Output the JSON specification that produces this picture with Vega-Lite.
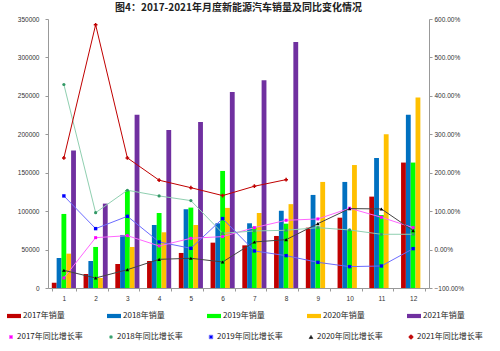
{
  "$schema": "https://vega.github.io/schema/vega-lite/v6.json",
  "autosize": {"type": "none"},
  "padding": {"left": 48, "top": 19, "right": 71, "bottom": 63},
  "width": 381,
  "height": 269,
  "background": "white",
  "title": {"text": "图4：2017-2021年月度新能源汽车销量及同比变化情况", "font": "Noto Sans CJK SC", "fontSize": 10, "fontWeight": "bold", "color": "#222222", "anchor": "middle", "offset": 3},
  "config": {
    "view": {"stroke": null},
    "axis": {"grid": false, "domainColor": "#999999", "tickColor": "#999999", "labelColor": "#333333", "labelFont": "Liberation Sans", "labelFontSize": 6.5, "tickSize": 3, "title": null, "labelOverlap": false, "labelBound": false},
    "legend": {"labelFont": "Noto Sans CJK SC", "labelFontSize": 8, "labelColor": "#222222", "labelLimit": 200, "title": null}
  },
  "datasets": {
    "sales": [
      {"month": 1, "year": "2017年销量", "sales": 6900}, {"month": 2, "year": "2017年销量", "sales": 18200}, {"month": 3, "year": "2017年销量", "sales": 31250}, {"month": 4, "year": "2017年销量", "sales": 35100}, {"month": 5, "year": "2017年销量", "sales": 45600}, {"month": 6, "year": "2017年销量", "sales": 59000}, {"month": 7, "year": "2017年销量", "sales": 55500}, {"month": 8, "year": "2017年销量", "sales": 67700}, {"month": 9, "year": "2017年销量", "sales": 78500}, {"month": 10, "year": "2017年销量", "sales": 91500}, {"month": 11, "year": "2017年销量", "sales": 118900}, {"month": 12, "year": "2017年销量", "sales": 163200},
      {"month": 1, "year": "2018年销量", "sales": 39000}, {"month": 2, "year": "2018年销量", "sales": 35100}, {"month": 3, "year": "2018年销量", "sales": 69000}, {"month": 4, "year": "2018年销量", "sales": 82000}, {"month": 5, "year": "2018年销量", "sales": 102500}, {"month": 6, "year": "2018年销量", "sales": 84200}, {"month": 7, "year": "2018年销量", "sales": 84200}, {"month": 8, "year": "2018年销量", "sales": 100500}, {"month": 9, "year": "2018年销量", "sales": 121100}, {"month": 10, "year": "2018年销量", "sales": 138000}, {"month": 11, "year": "2018年销量", "sales": 169300}, {"month": 12, "year": "2018年销量", "sales": 225300},
      {"month": 1, "year": "2019年销量", "sales": 96350}, {"month": 2, "year": "2019年销量", "sales": 53400}, {"month": 3, "year": "2019年销量", "sales": 127200}, {"month": 4, "year": "2019年销量", "sales": 97650}, {"month": 5, "year": "2019年销量", "sales": 104600}, {"month": 6, "year": "2019年销量", "sales": 152300}, {"month": 7, "year": "2019年销量", "sales": 79700}, {"month": 8, "year": "2019年销量", "sales": 83700}, {"month": 9, "year": "2019年销量", "sales": 80000}, {"month": 10, "year": "2019年销量", "sales": 75500}, {"month": 11, "year": "2019年销量", "sales": 95000}, {"month": 12, "year": "2019年销量", "sales": 163200},
      {"month": 1, "year": "2020年销量", "sales": 44700}, {"month": 2, "year": "2020年销量", "sales": 13000}, {"month": 3, "year": "2020年销量", "sales": 53400}, {"month": 4, "year": "2020年销量", "sales": 72500}, {"month": 5, "year": "2020年销量", "sales": 82000}, {"month": 6, "year": "2020年销量", "sales": 104200}, {"month": 7, "year": "2020年销量", "sales": 97600}, {"month": 8, "year": "2020年销量", "sales": 109100}, {"month": 9, "year": "2020年销量", "sales": 138000}, {"month": 10, "year": "2020年销量", "sales": 160000}, {"month": 11, "year": "2020年销量", "sales": 200100}, {"month": 12, "year": "2020年销量", "sales": 247800},
      {"month": 1, "year": "2021年销量", "sales": 178800}, {"month": 2, "year": "2021年销量", "sales": 109800}, {"month": 3, "year": "2021年销量", "sales": 225300}, {"month": 4, "year": "2021年销量", "sales": 205700}, {"month": 5, "year": "2021年销量", "sales": 216100}, {"month": 6, "year": "2021年销量", "sales": 255000}, {"month": 7, "year": "2021年销量", "sales": 270400}, {"month": 8, "year": "2021年销量", "sales": 320000}
    ],
    "rates": [
      {"month": 1, "series": "2017年同比增长率", "rate": -0.74}, {"month": 2, "series": "2017年同比增长率", "rate": 0.31}, {"month": 3, "series": "2017年同比增长率", "rate": 0.362}, {"month": 4, "series": "2017年同比增长率", "rate": 0.094}, {"month": 5, "series": "2017年同比增长率", "rate": 0.293}, {"month": 6, "series": "2017年同比增长率", "rate": 0.337}, {"month": 7, "series": "2017年同比增长率", "rate": 0.57}, {"month": 8, "series": "2017年同比增长率", "rate": 0.762}, {"month": 9, "series": "2017年同比增长率", "rate": 0.797}, {"month": 10, "series": "2017年同比增长率", "rate": 1.075}, {"month": 11, "series": "2017年同比增长率", "rate": 0.84}, {"month": 12, "series": "2017年同比增长率", "rate": 0.57},
      {"month": 1, "series": "2018年同比增长率", "rate": 4.295}, {"month": 2, "series": "2018年同比增长率", "rate": 0.96}, {"month": 3, "series": "2018年同比增长率", "rate": 1.544}, {"month": 4, "series": "2018年同比增长率", "rate": 1.396}, {"month": 5, "series": "2018年同比增长率", "rate": 1.274}, {"month": 6, "series": "2018年同比增长率", "rate": 0.424}, {"month": 7, "series": "2018年同比增长率", "rate": 0.484}, {"month": 8, "series": "2018年同比增长率", "rate": 0.502}, {"month": 9, "series": "2018年同比增长率", "rate": 0.57}, {"month": 10, "series": "2018年同比增长率", "rate": 0.51}, {"month": 11, "series": "2018年同比增长率", "rate": 0.398}, {"month": 12, "series": "2018年同比增长率", "rate": 0.398},
      {"month": 1, "series": "2019年同比增长率", "rate": 1.396}, {"month": 2, "series": "2019年同比增长率", "rate": 0.545}, {"month": 3, "series": "2019年同比增长率", "rate": 0.866}, {"month": 4, "series": "2019年同比增长率", "rate": 0.198}, {"month": 5, "series": "2019年同比增长率", "rate": 0.033}, {"month": 6, "series": "2019年同比增长率", "rate": 0.806}, {"month": 7, "series": "2019年同比增长率", "rate": -0.036}, {"month": 8, "series": "2019年同比增长率", "rate": -0.158}, {"month": 9, "series": "2019年同比增长率", "rate": -0.332}, {"month": 10, "series": "2019年同比增长率", "rate": -0.444}, {"month": 11, "series": "2019年同比增长率", "rate": -0.427}, {"month": 12, "series": "2019年同比增长率", "rate": 0.024},
      {"month": 1, "series": "2020年同比增长率", "rate": -0.54}, {"month": 2, "series": "2020年同比增长率", "rate": -0.74}, {"month": 3, "series": "2020年同比增长率", "rate": -0.523}, {"month": 4, "series": "2020年同比增长率", "rate": -0.254}, {"month": 5, "series": "2020年同比增长率", "rate": -0.227}, {"month": 6, "series": "2020年同比增长率", "rate": -0.323}, {"month": 7, "series": "2020年同比增长率", "rate": 0.198}, {"month": 8, "series": "2020年同比增长率", "rate": 0.258}, {"month": 9, "series": "2020年同比增长率", "rate": 0.675}, {"month": 10, "series": "2020年同比增长率", "rate": 1.066}, {"month": 11, "series": "2020年同比增长率", "rate": 1.057}, {"month": 12, "series": "2020年同比增长率", "rate": 0.493},
      {"month": 1, "series": "2021年同比增长率", "rate": 2.385}, {"month": 2, "series": "2021年同比增长率", "rate": 5.849}, {"month": 3, "series": "2021年同比增长率", "rate": 2.385}, {"month": 4, "series": "2021年同比增长率", "rate": 1.805}, {"month": 5, "series": "2021年同比增长率", "rate": 1.61}, {"month": 6, "series": "2021年同比增长率", "rate": 1.405}, {"month": 7, "series": "2021年同比增长率", "rate": 1.648}, {"month": 8, "series": "2021年同比增长率", "rate": 1.82}
    ]
  },
  "encoding": {
    "x": {"field": "month", "type": "ordinal", "scale": {"paddingInner": 0.24, "paddingOuter": 0.12}, "axis": {"labelAngle": 0, "tickBand": "extent", "labelPadding": 4, "tickSize": 3}}
  },
  "layer": [
    {
      "data": {"name": "sales"},
      "mark": {"type": "bar"},
      "encoding": {
        "xOffset": {"field": "year", "type": "nominal", "scale": {"domain": ["2017年销量", "2018年销量", "2019年销量", "2020年销量", "2021年销量"], "paddingInner": 0, "paddingOuter": 0}},
        "y": {"field": "sales", "type": "quantitative", "scale": {"domain": [0, 350000]}, "axis": {"orient": "left", "values": [0, 50000, 100000, 150000, 200000, 250000, 300000, 350000], "format": "d", "labelPadding": 6}},
        "color": {"field": "year", "type": "nominal", "scale": {"domain": ["2017年销量", "2018年销量", "2019年销量", "2020年销量", "2021年销量"], "range": ["#C00000", "#0070C0", "#00FF00", "#FFC000", "#7030A0"]},
          "legend": {"orient": "none", "direction": "horizontal", "columns": 5, "legendX": -41, "legendY": 290, "symbolType": "M-1,-0.3H1V0.3H-1Z", "symbolSize": 196, "symbolStrokeWidth": 0, "columnPadding": 42, "labelOffset": 2}}
      }
    },
    {
      "data": {"name": "rates"},
      "encoding": {
        "y": {"field": "rate", "type": "quantitative", "scale": {"domain": [-1, 6]}, "axis": {"orient": "right", "values": [-1, 0, 1, 2, 3, 4, 5, 6], "format": ".2%", "labelPadding": 2}}
      },
      "layer": [
        {
          "mark": {"type": "line", "strokeWidth": 1},
          "encoding": {
            "stroke": {"field": "series", "type": "nominal", "scale": {"domain": ["2017年同比增长率", "2018年同比增长率", "2019年同比增长率", "2020年同比增长率", "2021年同比增长率"], "range": ["#FF66FF", "#8FCFB0", "#6B6BFF", "#444444", "#C00000"]},
              "legend": {"orient": "none", "direction": "horizontal", "columns": 5, "legendX": -41, "legendY": 314, "symbolType": "M-1,0H1M-0.2,-0.2H0.2V0.2H-0.2Z", "symbolSize": 196, "symbolStrokeWidth": 1.5, "columnPadding": 24, "labelOffset": 2}},
            "strokeWidth": {"field": "series", "type": "nominal", "scale": {"domain": ["2017年同比增长率", "2018年同比增长率", "2019年同比增长率", "2020年同比增长率", "2021年同比增长率"], "range": [1, 1, 1, 1, 1.5]}, "legend": null}
          }
        },
        {
          "mark": {"type": "point", "filled": true, "opacity": 1},
          "encoding": {
            "fill": {"field": "series", "type": "nominal", "scale": {"domain": ["2017年同比增长率", "2018年同比增长率", "2019年同比增长率", "2020年同比增长率", "2021年同比增长率"], "range": ["#FF00FF", "#339966", "#0000FF", "#000000", "#C00000"]}, "legend": null},
            "shape": {"field": "series", "type": "nominal", "scale": {"domain": ["2017年同比增长率", "2018年同比增长率", "2019年同比增长率", "2020年同比增长率", "2021年同比增长率"], "range": ["square", "circle", "square", "triangle-up", "cross"]}, "legend": null},
            "size": {"field": "series", "type": "nominal", "scale": {"domain": ["2017年同比增长率", "2018年同比增长率", "2019年同比增长率", "2020年同比增长率", "2021年同比增长率"], "range": [9, 14, 20, 16, 16]}, "legend": null}
          }
        }
      ]
    }
  ],
  "resolve": {"scale": {"y": "independent"}}
}
